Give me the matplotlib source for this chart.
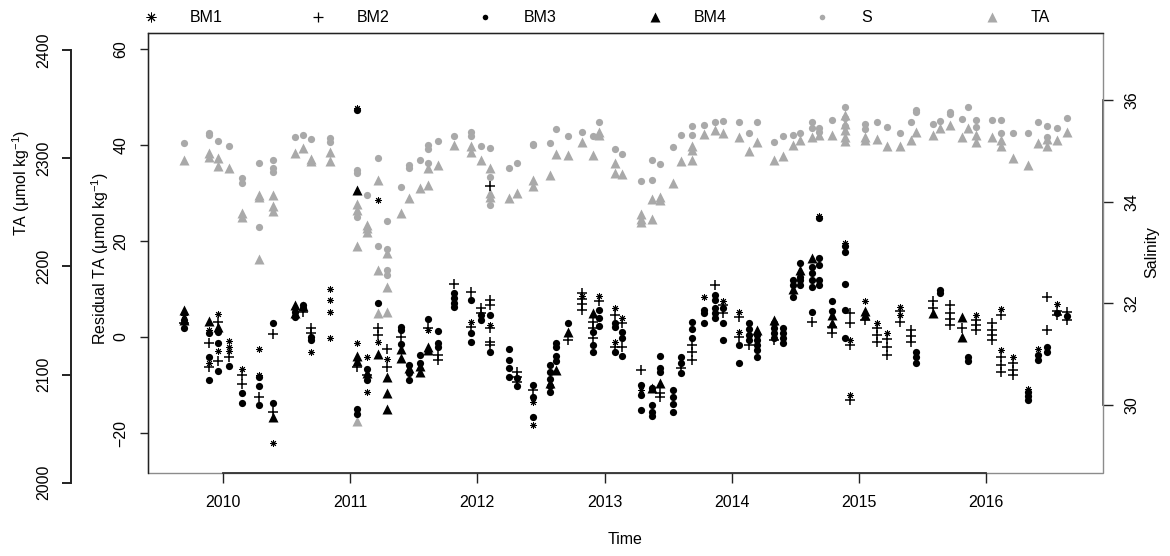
import matplotlib
matplotlib.use("Agg")
import matplotlib.pyplot as plt
from matplotlib.patches import Rectangle

plt.rcParams['font.family'] = ['Liberation Sans', 'DejaVu Sans']
plt.rcParams['mathtext.fontset'] = 'custom'
plt.rcParams['mathtext.rm'] = 'Liberation Sans'
plt.rcParams['mathtext.it'] = 'Liberation Sans:italic'

# ---------------- data (sampling dates, values per date) ----------------
dates = [2009.69, 2009.89, 2009.96, 2010.05, 2010.15, 2010.28, 2010.39, 2010.57,
         2010.63, 2010.69, 2010.84, 2011.05, 2011.13, 2011.22, 2011.29, 2011.40,
         2011.46, 2011.55, 2011.61, 2011.69, 2011.82, 2011.95, 2012.03, 2012.10,
         2012.25, 2012.31, 2012.44, 2012.57, 2012.62, 2012.71, 2012.82, 2012.91,
         2012.96, 2013.08, 2013.14, 2013.29, 2013.37, 2013.44, 2013.54, 2013.60,
         2013.69, 2013.78, 2013.87, 2013.93, 2014.06, 2014.14, 2014.20, 2014.33,
         2014.40, 2014.48, 2014.54, 2014.63, 2014.69, 2014.79, 2014.89, 2014.93,
         2015.05, 2015.14, 2015.22, 2015.32, 2015.41, 2015.45, 2015.58, 2015.64,
         2015.72, 2015.81, 2015.86, 2015.92, 2016.05, 2016.12, 2016.21, 2016.33,
         2016.41, 2016.48, 2016.56, 2016.64]

salinity = [[35.15], [35.36, 35.31], [35.19], [35.10], [34.47, 34.37], [34.77, 33.51],
            [34.82, 34.66, 34.59], [35.27], [35.31], [35.23], [35.25, 35.18],
            [34.62, 34.56, 33.70], [34.13], [34.85, 33.13], [33.61, 33.07, 32.66, 32.56],
            [34.29], [34.72, 34.66], [34.82], [35.11, 35.03, 34.77], [35.19], [35.30],
            [35.38, 35.29], [35.10], [35.05, 34.48, 33.93], [34.66], [34.77], [35.13, 35.11],
            [35.16], [35.43], [35.30], [35.38], [35.29], [35.56], [35.03], [34.94], [34.41],
            [34.81, 34.43], [34.74], [35.08], [35.31], [35.49, 35.31], [35.51], [35.56],
            [35.59], [35.57], [35.36], [35.56], [35.18], [35.29], [35.31], [35.35],
            [35.57, 35.44], [35.44, 35.38], [35.61], [35.87, 35.64, 35.49], [],
            [35.52, 35.42], [35.56], [35.46], [35.36], [35.56], [35.80, 35.76], [35.52],
            [35.59], [35.77, 35.72], [35.62], [35.86], [35.61, 35.46], [35.61],
            [35.61, 35.35], [35.35], [35.36], [35.56], [35.49, 35.28], [35.44], [35.64]]

ta = [[2298], [2305, 2301], [2300, 2293], [2291], [2249, 2246], [2266, 2264, 2207],
      [2266, 2256, 2251], [2305], [2309], [2299, 2297], [2306, 2297],
      [2258, 2252, 2219, 2057], [2238, 2235, 2232], [2280, 2197, 2157],
      [2212, 2181, 2158], [2249], [2263], [2272], [2291, 2275], [2294], [2312],
      [2311, 2306], [2298], [2291, 2268, 2264], [2263], [2268], [2280, 2274], [2284],
      [2304], [2303], [2315], [2303], [2324, 2321], [2296, 2286], [2285],
      [2248, 2244, 2241], [2262, 2244], [2264, 2261], [2277], [2297],
      [2311, 2308, 2298], [2322], [2326], [2323], [2320], [2307], [2315], [2298],
      [2302], [2312], [2317], [2320], [2321], [2321], [2340, 2332, 2326, 2320, 2316], [],
      [2320, 2317], [2318], [2311], [2311], [2317], [2324], [2321], [2328], [2331],
      [2320], [2328], [2321, 2315], [2320], [2317, 2311], [2300], [2294], [2314],
      [2318, 2311], [2317], [2324]]

bm1 = [[4.5], [1.5, -5.5], [4.7, -3.0], [-0.8, -2.0, -2.9], [-6.7], [-2.6, -8.0],
       [-22.1], [], [], [-3.1], [10.1, 7.7, 5.3, -0.3], [47.8, -1.2], [-4.2, -11.4],
       [28.5, -1.0], [-4.6], [], [], [], [1.5], [], [], [3.2], [], [2.5], [], [],
       [-13.5, -18.3], [], [], [], [8.5], [], [8.5], [6.0, -1.0], [3.9], [-11.0], [],
       [], [], [], [], [8.4], [], [7.6], [5.3, 1.1], [], [], [], [], [], [], [],
       [25.2], [], [19.5], [-0.6, -12.1], [7.4], [2.9], [0.9], [6.3, 4.5], [], [], [],
       [], [], [], [], [4.6], [], [5.8, -2.7], [-4.2], [-10.8], [-2.4], [], [6.9], []]

bm2 = [[3.0], [-1.3, -6.3], [3.2, -5.1], [-4.1], [-7.9, -9.8], [-12.6], [0.6, -15.6],
       [], [5.3], [1.8, 0.8], [], [-6.2], [-8.0], [1.8, 0.4], [-2.4, -6.3], [0.0], [],
       [], [1.8], [-3.8, -4.8], [11.0], [9.4, 2.1], [6.0, 4.9],
       [31.5, 7.7, 6.7, 1.8, -1.0, -1.7], [], [-7.2, -8.3, -9.3], [-11.0], [], [],
       [-0.6], [9.1, 8.0, 6.8, 5.6], [3.2, 1.8, -0.3], [7.4], [4.6, -2.0], [2.9, -2.0],
       [-6.9], [], [-11.7, -12.4], [], [-6.5], [-1.7, -3.1, -4.8], [], [10.8],
       [6.7, 4.9], [4.2, 0.1], [-1.7], [], [-0.6], [], [], [], [3.2], [], [2.1, 0.8],
       [], [5.0, 3.0, -1.7, -13.1], [3.5], [1.8, 0.5, -1.0], [-0.5, -2.0, -3.8],
       [5.5, 3.2], [1.5, 0.2, -1.0], [], [7.4, 6.0], [], [6.7, 5.0, 3.8, 2.5], [1.8],
       [], [3.5, 2.5, 1.5], [2.9, 1.5, 0.4, -0.6], [4.6, -4.2, -5.8, -7.2],
       [-5.5, -6.8, -7.9], [], [], [8.4, 1.5], [5.5, 4.6], [5.3, 3.5]]

bm3 = [[3.5, 1.9], [0.8, -4.1, -9.0], [1.1, -1.3, -7.0], [-6.0], [-11.7, -13.8],
       [-8.3, -10.2, -14.2], [2.9, -13.7], [5.3, 4.2], [6.7, 6.0], [0.1, -0.6], [],
       [47.3, -15.0, -16.0], [-6.7, -9.0], [7.0], [], [2.1, 1.4, -1.4],
       [-5.8, -7.5, -9.0], [-3.8, -5.5], [3.8], [1.3, -1.2, -2.0], [9.1, 8.1, 7.0, 6.3],
       [7.8, 0.8, -1.0], [4.6, 3.5], [4.6, -3.1], [-2.4, -4.8, -6.5, -8.3],
       [-8.6, -10.3], [-10.0, -12.4, -16.6], [-5.8, -7.3, -8.8, -10.2, -11.4],
       [-1.3, -2.0, -4.0, -5.1], [3.0], [], [1.1, -1.7, -3.1], [5.6, 3.9, 2.3],
       [2.9, 2.1, -3.1], [1.1, -0.3, -4.0], [-10.0, -12.1, -15.2],
       [-10.7, -14.2, -15.6, -16.5], [-4.0, -6.5, -7.2], [-11.0, -12.5, -14.0, -15.6],
       [-4.1, -5.5, -7.6], [3.2, 1.6, -0.3], [5.6, 4.9, 2.9], [8.8, 7.7, 6.0, 4.9, 3.9],
       [6.0, 2.9, -0.6], [-1.7, -5.5], [2.9, 1.6, 0.4, -0.6], [0.4, -0.6, -1.7, -2.7, -4.1],
       [2.9, 1.8, 0.8, -0.3], [1.9, 0.8, -0.3, -1.3], [11.9, 10.8, 8.4],
       [15.4, 12.5, 11.9, 10.8], [14.6, 13.3, 11.9, 10.4, 5.3],
       [24.7, 16.5, 15.0, 11.9, 10.8], [7.4, 5.5], [19.0, 17.8, 11.0, 5.6, -0.3], [],
       [], [], [], [], [], [-3.1, -4.2, -5.5], [], [9.8, 9.1], [], [], [-4.1, -5.1], [],
       [], [], [], [-11.4, -12.3, -13.1], [-3.8, -4.8], [-2.0, -3.1], [5.0], [4.4]]

bm4 = [[5.6, 3.5], [3.4], [2.0], [], [], [], [-16.6], [6.7, 5.0], [6.5], [], [],
       [30.6, -4.0, -5.0], [-7.5], [-3.5], [-8.3, -11.7, -14.9], [-2.5, -4.4], [-6.5],
       [-6.0, -7.2], [-2.0, -2.7], [], [], [], [], [], [], [], [], [-9.5], [-6.9], [1.1],
       [], [4.9], [], [], [], [], [-10.7], [-9.5], [], [], [], [], [], [], [], [], [1.5],
       [3.5], [], [10.0], [14.0], [16.5], [], [4.5, 3.0], [], [], [5.5, 4.5], [], [], [],
       [], [], [4.9], [], [], [4.2, 0.1], [], [], [], [], [], [], [], [], [], []]

legend_labels = ['BM1', 'BM2', 'BM3', 'BM4', 'S', 'TA']
year_ticks = [2010, 2011, 2012, 2013, 2014, 2015, 2016]
res_ticks = [-20, 0, 20, 40, 60]
ta_ticks = [2000, 2100, 2200, 2300, 2400]
sal_ticks = [30, 32, 34, 36]


def flat(vals):
    xs, ys = [], []
    for d, v in zip(dates, vals):
        for y in v:
            xs.append(d)
            ys.append(y)
    return xs, ys


# ---------------- layout ----------------
W, H = 1170, 556
fig = plt.figure(figsize=(W / 100, H / 100), dpi=100)
fig.patch.set_facecolor('white')
L, R, T, B = 148, 1102.7, 33, 472.7


def rect(top, bottom):
    return [L / W, 1 - bottom / H, (R - L) / W, (bottom - top) / H]


XLIM = (2010 - (223 - 148) / 127.2, 2016 + (1102.7 - 986) / 127.2)
GRAY = '#a9a9a9'
DARK = '#222222'
FS = 11.5

# TA axis (outer left)
ax_ta = fig.add_axes(rect(50, 482.7), zorder=1)
ax_ta.patch.set_visible(False)
ax_ta.set_xlim(XLIM)
ax_ta.set_ylim(2000, 2400)
for s in ['top', 'right', 'bottom']:
    ax_ta.spines[s].set_visible(False)
ax_ta.spines['left'].set_position(('outward', 77 * 0.72))
ax_ta.spines['left'].set_color(DARK)
ax_ta.spines['left'].set_linewidth(1.4)
ax_ta.set_xticks([])
ax_ta.set_yticks(ta_ticks)
ax_ta.tick_params(axis='y', direction='out', length=6.5, width=1.4, color=DARK,
                  labelsize=FS, pad=8, labelrotation=90)
for lab in ax_ta.get_yticklabels():
    lab.set_va('center')
tx, ty = flat(ta)
ax_ta.plot(tx, ty, linestyle='none', marker='^', ms=7.2, color=GRAY, mec='none')

# Salinity axis (right)
ax_s = fig.add_axes(rect(T, B), zorder=2)
ax_s.patch.set_visible(False)
ax_s.set_xlim(XLIM)
ax_s.set_ylim(28.668, 37.318)
for s in ['top', 'left', 'bottom']:
    ax_s.spines[s].set_visible(False)
ax_s.spines['right'].set_bounds(30, 36)
ax_s.spines['right'].set_color('#444444')
ax_s.spines['right'].set_linewidth(1.2)
ax_s.set_xticks([])
ax_s.yaxis.tick_right()
ax_s.set_yticks(sal_ticks)
ax_s.tick_params(axis='y', direction='out', length=7, width=1, color=DARK,
                 labelsize=FS, pad=9, labelrotation=90)
for lab in ax_s.get_yticklabels():
    lab.set_va('center')
sx, sy = flat(salinity)
ax_s.plot(sx, sy, linestyle='none', marker='o', ms=5.2, color=GRAY, mec='none')

# Residual axis (main)
ax = fig.add_axes(rect(T, B), zorder=3)
ax.patch.set_visible(False)
ax.set_xlim(XLIM)
ax.set_ylim(-28.27, 63.33)
ax.add_patch(Rectangle((0, 0), 1, 1, transform=ax.transAxes, fill=False,
                       edgecolor='#8c8c8c', lw=1.0, clip_on=False, zorder=0))
ax.spines['right'].set_visible(False)
ax.spines['left'].set_color(DARK)
ax.spines['top'].set_color(DARK)
ax.spines['bottom'].set_color('#333333')
ax.spines['bottom'].set_bounds(2010, 2016)
for s in ['left', 'top', 'bottom']:
    ax.spines[s].set_linewidth(1.0)
ax.spines['bottom'].set_linewidth(1.3)
ax.set_xticks(year_ticks)
ax.set_yticks(res_ticks)
ax.tick_params(axis='x', direction='out', length=7, width=1, color=DARK,
               labelsize=FS, pad=9)
ax.tick_params(axis='y', direction='out', length=6, width=1, color=DARK,
               labelsize=FS, pad=8, labelrotation=90)
for lab in ax.get_yticklabels():
    lab.set_va('center')

x1, y1 = flat(bm1)
x2, y2 = flat(bm2)
x3, y3 = flat(bm3)
x4, y4 = flat(bm4)
ax.plot(x4, y4, linestyle='none', marker='^', ms=7.0, color='black', mec='none')
ax.plot(x3, y3, linestyle='none', marker='o', ms=5.2, color='black', mec='none')
ax.plot(x2, y2, linestyle='none', marker='+', ms=7.0, mew=1.1, color='black')
ax.plot(x1, y1, linestyle='none', marker=(8, 2, 0), ms=4.8, mew=0.7, color='black')

# axis titles
fig.text(625 / W, 1 - 540 / H, 'Time', ha='center', va='center', fontsize=FS)
fig.text(1152 / W, 1 - 252 / H, 'Salinity', ha='center', va='center',
         rotation=90, fontsize=FS)
fig.text(100 / W, 1 - 258 / H, 'Residual TA (\u03bcmol kg$^{-1}$)', ha='center',
         va='center', rotation=90, fontsize=FS)
fig.text(21 / W, 1 - 183 / H, 'TA (\u03bcmol kg$^{-1}$)', ha='center',
         va='center', rotation=90, fontsize=FS)

# legend (top row)
lg = fig.add_axes([0, 0, 1, 1], zorder=5)
lg.patch.set_visible(False)
lg.set_xlim(0, W)
lg.set_ylim(H, 0)
lg.axis('off')
leg_x = [151, 318, 485, 655, 822, 992]
leg_style = [dict(marker=(8, 2, 0), ms=7, mew=0.7, color='black'),
             dict(marker='+', ms=7.5, mew=0.9, color='black'),
             dict(marker='o', ms=4, color='black', mec='none'),
             dict(marker='^', ms=6.5, color='black', mec='none'),
             dict(marker='o', ms=4, color=GRAY, mec='none'),
             dict(marker='^', ms=6.5, color=GRAY, mec='none')]
for xm, lab, st in zip(leg_x, legend_labels, leg_style):
    lg.plot([xm], [17], linestyle='none', **st)
    lg.text(xm + 39, 17, lab, ha='left', va='center', fontsize=FS)

fig.savefig('out.png', dpi=100, facecolor='white')
